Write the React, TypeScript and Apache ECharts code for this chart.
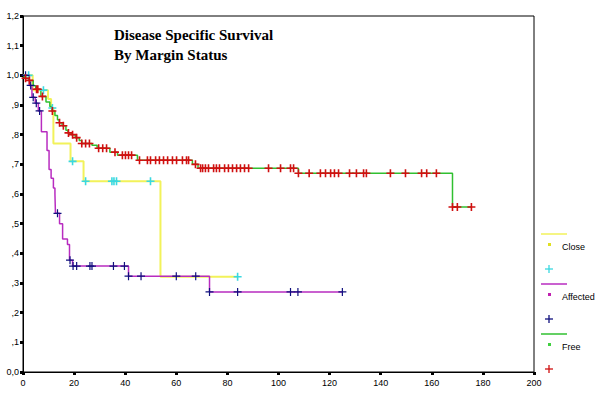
import React, { useEffect, useRef } from 'react';
import * as echarts from 'echarts';

// ---- data (months, survival proportion) ----
const closeCurve: number[][] = [
  [0, 1], [3.8, 0.95], [9.8, 0.92], [11, 0.89], [11.9, 0.77], [18.6, 0.71], [23.7, 0.643], [53.8, 0.321], [84, 0.321],
];
const closeCensored: number[][] = [
  [2.2, 1], [8, 0.95], [11.5, 0.89], [19.4, 0.71], [24.5, 0.643], [34.8, 0.643], [35.6, 0.643], [36.6, 0.643], [49.9, 0.643], [84, 0.321],
];

const affectedCurve: number[][] = [
  [0, 1], [2.5, 0.966], [3.5, 0.926], [4.8, 0.906], [6, 0.88], [7.2, 0.81], [9.4, 0.747], [10.2, 0.683], [11, 0.653],
  [11.9, 0.62], [12.5, 0.6], [12.7, 0.535], [14.3, 0.5], [15.5, 0.448], [17.4, 0.43], [18.2, 0.377], [19.4, 0.357],
  [41.3, 0.323], [73, 0.27], [125, 0.27],
];
const affectedCensored: number[][] = [
  [1, 1], [3, 0.966], [4, 0.926], [5.2, 0.906], [6.5, 0.88], [13.5, 0.535], [18.4, 0.377], [19.6, 0.357], [21, 0.357],
  [26.2, 0.357], [27, 0.357], [35.4, 0.357], [39.7, 0.357], [41.3, 0.323], [46.2, 0.323], [60, 0.323], [67.6, 0.323],
  [73, 0.27], [84, 0.27], [104.7, 0.27], [107.6, 0.27], [125, 0.27],
];

const freeCurve: number[][] = [
  [0, 1], [0.5, 0.99], [2.2, 0.983], [4, 0.965], [5, 0.953], [7, 0.929], [9, 0.91], [10.5, 0.895], [11.3, 0.88],
  [12.5, 0.865], [13.5, 0.85], [14.2, 0.84], [15.3, 0.83], [16.8, 0.815], [17.6, 0.806], [19, 0.8], [20.5, 0.79],
  [22, 0.78], [23, 0.77], [27, 0.764], [29, 0.754], [34, 0.741], [37, 0.731], [44.8, 0.714], [66.3, 0.7],
  [68.5, 0.687], [107.8, 0.67], [168.1, 0.556], [175.5, 0.556],
];
const freeCensored: number[][] = [
  [1, 0.99], [2.5, 0.983], [5.3, 0.953], [5.8, 0.953], [7.6, 0.929], [11.5, 0.88], [14.3, 0.84], [15.8, 0.83],
  [17.8, 0.806], [19.4, 0.8], [21, 0.79], [23, 0.77], [24.5, 0.77], [26, 0.77], [29.6, 0.754], [31.2, 0.754],
  [32.7, 0.754], [36, 0.741], [38.9, 0.731], [40.1, 0.731], [41.3, 0.731], [42.5, 0.731],
  [45.6, 0.714], [48.7, 0.714], [49.9, 0.714], [51.9, 0.714], [53.4, 0.714], [55, 0.714], [56.6, 0.714],
  [58.5, 0.714], [60.1, 0.714], [62.4, 0.714], [64, 0.714], [64.8, 0.714], [67.5, 0.7], [69.5, 0.687],
  [70.3, 0.687], [71.4, 0.687], [72.6, 0.687], [74.6, 0.687], [75.7, 0.687], [76.9, 0.687], [78.9, 0.687],
  [80.4, 0.687], [82, 0.687], [83.6, 0.687], [85.1, 0.687], [86.7, 0.687], [88.3, 0.687], [96.1, 0.687],
  [100.8, 0.687], [104.7, 0.687], [105.9, 0.687],
  [107.8, 0.67], [112, 0.67], [116.4, 0.67], [118.4, 0.67], [120.4, 0.67], [121.9, 0.67], [123.5, 0.67],
  [127.8, 0.67], [130.5, 0.67], [133.3, 0.67], [134.4, 0.67], [143.8, 0.67], [149.7, 0.67], [156, 0.67],
  [158, 0.67], [161.8, 0.67], [168.1, 0.556], [170, 0.556], [175.5, 0.556],
];

const legendLabels = ['Close', 'Affected', 'Free'];
const titleLines = ['Disease Specific Survival', 'By Margin Status'];

const C_YELLOW = '#f2f25a';
const C_CYAN = '#3ad8e0';
const C_PURPLE = '#b82cc0';
const C_NAVY = '#10107e';
const C_GREEN = '#30c030';
const C_RED = '#d01010';

const PLUS_THICK = 'path://M3.2,0H4.8V8H3.2Z M0,3.2H8V4.8H0Z';
const PLUS_THIN = 'path://M3.4,0H4.6V8H3.4Z M0,3.4H8V4.6H0Z';

function fmtY(v: number): string {
  const s = v.toFixed(1).replace('.', ',');
  if (v > 0.05 && v < 0.95) return s.slice(1);
  return s;
}

function legendItem(y: number, lineColor: string, dotColor: string, plusColor: string, label: string): any[] {
  return [
    { type: 'line', shape: { x1: 541, y1: y, x2: 567, y2: y }, style: { stroke: lineColor, lineWidth: 1.5 } },
    { type: 'rect', shape: { x: 548, y: y + 9, width: 3, height: 3 }, style: { fill: dotColor } },
    {
      type: 'text', x: 562, y: y + 13,
      style: { text: label, font: '9px "Liberation Sans", Arial, sans-serif', fill: '#000', verticalAlign: 'middle' },
    },
    { type: 'line', shape: { x1: 545, y1: y + 35, x2: 553, y2: y + 35 }, style: { stroke: plusColor, lineWidth: 1.3 } },
    { type: 'line', shape: { x1: 549, y1: y + 31, x2: 549, y2: y + 39 }, style: { stroke: plusColor, lineWidth: 1.3 } },
  ];
}

export default function App() {
  const ref = useRef<HTMLDivElement>(null);
  useEffect(() => {
    if (!ref.current) return;
    const chart = echarts.init(ref.current, null, { renderer: 'svg' });
    const lineSeries = (data: number[][], color: string, width: number) => ({
      type: 'line', data, step: 'end', showSymbol: false, symbol: 'none',
      lineStyle: { color, width }, z: 2, silent: true,
    });
    const censSeries = (data: number[][], color: string, path: string) => ({
      type: 'scatter', data, symbol: path, symbolSize: [8, 8],
      itemStyle: { color, opacity: 1 }, z: 3, silent: true,
    });
    chart.setOption({
      animation: false,
      backgroundColor: '#fff',
      grid: {
        left: 23, right: 68, top: 16, bottom: 23, show: true, borderColor: '#000', borderWidth: 1,
        backgroundColor: 'transparent',
      },
      xAxis: {
        type: 'value', min: 0, max: 200, interval: 20,
        axisLine: { show: true, lineStyle: { color: '#000', width: 1 } },
        axisTick: { show: true, length: 3, lineStyle: { color: '#000', width: 3 } },
        axisLabel: { color: '#000', fontSize: 9, fontFamily: '"Liberation Sans", Arial, sans-serif', margin: 6 },
        splitLine: { show: false },
      },
      yAxis: {
        type: 'value', min: 0, max: 1.2, interval: 0.1,
        axisLine: { show: true, lineStyle: { color: '#000', width: 1 } },
        axisTick: { show: true, length: 3, lineStyle: { color: '#000', width: 3 } },
        axisLabel: {
          color: '#000', fontSize: 9, fontFamily: '"Liberation Sans", Arial, sans-serif', margin: 4,
          formatter: (v: number) => fmtY(v),
        },
        splitLine: { show: false },
      },
      graphic: [
        {
          type: 'text', left: 114, top: 25,
          style: {
            text: titleLines.join('\n'), font: 'bold 15px "Liberation Serif", "Times New Roman", serif',
            fill: '#000', lineHeight: 20,
          },
        },
        ...legendItem(234, C_YELLOW, '#e0e020', C_CYAN, legendLabels[0]),
        ...legendItem(284, C_PURPLE, '#c020b0', C_NAVY, legendLabels[1]),
        ...legendItem(334, C_GREEN, '#40d040', C_RED, legendLabels[2]),
      ],
      series: [
        lineSeries(closeCurve, C_YELLOW, 2),
        lineSeries(affectedCurve, C_PURPLE, 1.5),
        lineSeries(freeCurve, C_GREEN, 1.5),
        censSeries(closeCensored, C_CYAN, PLUS_THICK),
        censSeries(affectedCensored, C_NAVY, PLUS_THIN),
        censSeries(freeCensored, C_RED, PLUS_THICK),
      ],
    });
    return () => chart.dispose();
  }, []);
  return <div ref={ref} style={{ width: 602, height: 395, position: 'absolute', left: 0, top: 0 }} />;
}
